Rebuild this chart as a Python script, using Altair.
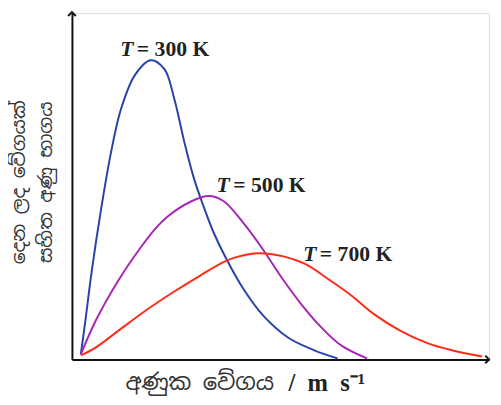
import altair as alt
import pandas as pd

# Values (arbitrary units: speed, fraction of molecules)
speed_300 = [9, 14, 20, 30, 40, 50, 64, 80, 94, 104, 114, 124, 134, 144, 157, 174, 194, 220, 247, 270]
frac_300 = [5, 42, 89, 155, 212, 255, 289, 304, 295, 265, 222, 184, 155, 129, 102, 72, 45, 22, 9, 1]

speed_500 = [9, 24, 47, 70, 84, 97, 120, 139, 154, 174, 194, 214, 234, 254, 274, 300]
frac_500 = [5, 39, 80, 114, 132, 145, 160, 166, 161, 139, 112, 82, 55, 32, 14, 1]

speed_700 = [9, 24, 47, 74, 104, 130, 154, 167, 190, 214, 237, 260, 284, 307, 334, 360, 387, 417]
frac_700 = [4, 12, 29, 49, 69, 85, 99, 104, 108, 105, 97, 82, 65, 46, 29, 17, 9, 3]

temps = ["300", "500", "700"]
colors = ["#2743a8", "#a626b5", "#ff2a17"]

label_speed = [49, 147, 235]
label_frac = [315, 177, 107]

y_title = ["දෙන ලද වේගයක්", "සහිත අණු භාගය"]
x_title_si = "අණුක වේගය"
x_title_unit = "/\u2002m\u2002s⁻¹"

rows = []
for T, xs_, ys_ in zip(temps, [speed_300, speed_500, speed_700], [frac_300, frac_500, frac_700]):
    for i, (a, b) in enumerate(zip(xs_, ys_)):
        rows.append({"T": T, "speed": a, "frac": b, "order": i})
df = pd.DataFrame(rows)

lab = pd.DataFrame({
    "T": temps,
    "speed": label_speed,
    "frac": label_frac,
    "rest": ["= " + t + " K" for t in temps],
    "speed2": [s + 17 for s in label_speed],
})

W, H = 424, 352
xsc = alt.Scale(domain=[0, 424], nice=False, zero=False)
ysc = alt.Scale(domain=[0, 352], nice=False, zero=False)

base = alt.Chart(df)

lines = base.mark_line(strokeWidth=2, interpolate="catmull-rom").encode(
    x=alt.X("speed:Q", scale=xsc,
            axis=alt.Axis(title=None, labels=False, ticks=False, grid=False,
                          domainColor="#111", domainWidth=2)),
    y=alt.Y("frac:Q", scale=ysc,
            axis=alt.Axis(title=None, labels=False, ticks=False, grid=False,
                          domainColor="#111", domainWidth=2)),
    color=alt.Color("T:N", scale=alt.Scale(domain=temps, range=colors), legend=None),
    order="order:Q",
)

tlab = alt.Chart(lab).mark_text(
    font="Liberation Serif", fontSize=22, fontStyle="italic", fontWeight="bold",
    align="left", baseline="middle", color="#222"
).encode(x=alt.X("speed:Q", scale=xsc), y=alt.Y("frac:Q", scale=ysc), text=alt.value("T"))

rlab = alt.Chart(lab).mark_text(
    font="Liberation Serif", fontSize=22, fontWeight="bold",
    align="left", baseline="middle", color="#222"
).encode(x=alt.X("speed2:Q", scale=xsc), y=alt.Y("frac:Q", scale=ysc), text="rest:N")

yt = pd.DataFrame({"t": y_title, "px": [-54, -26]})
ytitle = alt.Chart(yt).mark_text(
    font="Noto Sans Sinhala", fontSize=19, angle=270, align="center",
    baseline="middle", color="#333"
).encode(x=alt.X("px:Q", scale=None), y=alt.value(172), text="t:N")

xt1 = alt.Chart(pd.DataFrame({"t": [x_title_si]})).mark_text(
    font="Noto Sans Sinhala", fontSize=23, align="center", baseline="middle", color="#333"
).encode(x=alt.value(130), y=alt.value(376), text="t:N")

xt2 = alt.Chart(pd.DataFrame({"t": [x_title_unit]})).mark_text(
    font="Liberation Serif", fontSize=25, fontWeight="bold", align="left",
    baseline="middle", color="#222"
).encode(x=alt.value(220), y=alt.value(376), text="t:N")

arr_up = alt.Chart(pd.DataFrame({"a": [0]})).mark_point(
    shape="M-1,1L0,0L1,1", size=60, filled=False, strokeWidth=2, color="#111", opacity=1
).encode(x=alt.value(0), y=alt.value(-1))

arr_right = alt.Chart(pd.DataFrame({"a": [0]})).mark_point(
    shape="M-1,-1L0,0L-1,1", size=60, filled=False, strokeWidth=2, color="#111", opacity=1
).encode(x=alt.value(W), y=alt.value(H))

chart = alt.layer(lines, tlab, rlab, ytitle, xt1, xt2, arr_up, arr_right).properties(
    width=W, height=H,
    autosize=alt.AutoSizeParams(type="none"),
    padding={"left": 65, "top": 2, "right": 4, "bottom": 35},
).configure_view(stroke=None).configure(background="white")

chart.save("out.html", embed_options={"renderer": "svg", "actions": False})
